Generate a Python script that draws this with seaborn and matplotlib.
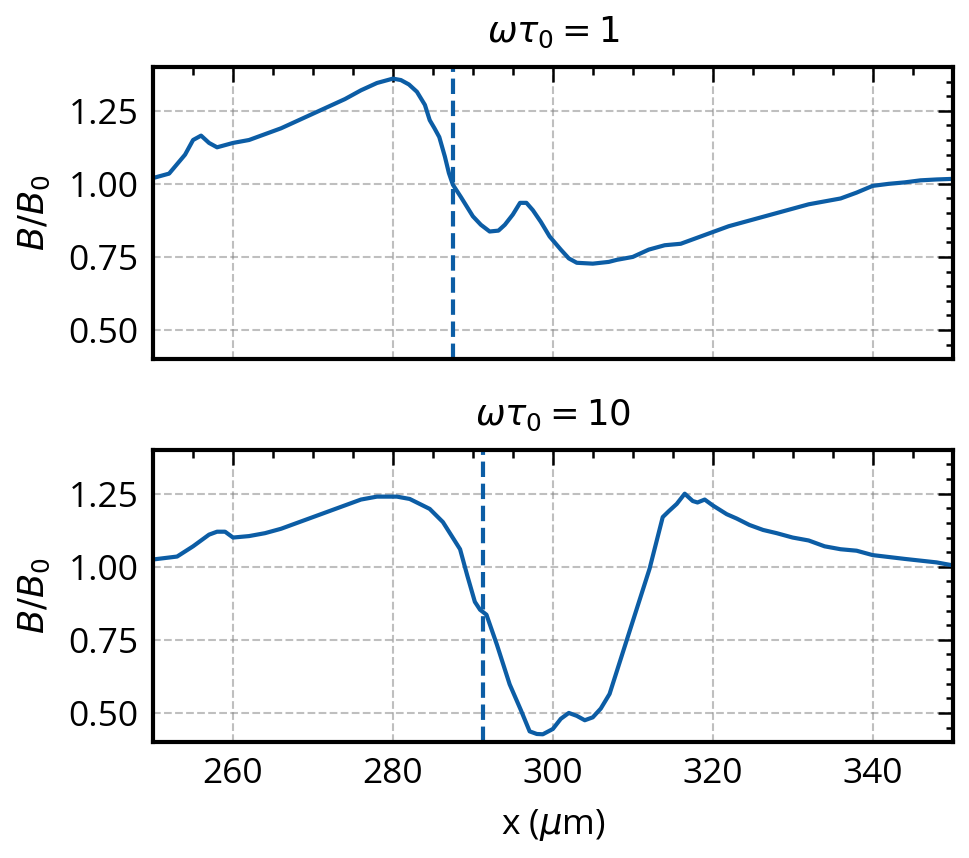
import numpy as np
import pandas as pd
import seaborn as sns
import matplotlib
matplotlib.use("Agg")
import matplotlib.pyplot as plt
from matplotlib.ticker import MultipleLocator

# top panel: omega*tau0 = 1
x_top = [250, 252, 254, 255, 256, 257, 258, 260, 262, 264, 266, 268, 270, 272, 274,
         276, 278, 280, 281, 282, 283, 284, 284.6, 285.2, 285.8, 286.5, 287, 287.5,
         288.5, 290, 291, 292.1, 293.2, 294, 295, 295.9, 296.7, 297.5, 298.5, 299.6,
         301, 302, 303, 305, 307, 308, 310, 312, 314, 316, 318, 320, 322, 324, 326,
         328, 330, 332, 334, 336, 337, 338, 340, 342, 344, 346, 348, 350]
b_top = [1.02, 1.035, 1.10, 1.15, 1.165, 1.14, 1.125, 1.14, 1.15, 1.17, 1.19, 1.215,
         1.24, 1.265, 1.29, 1.32, 1.345, 1.36, 1.355, 1.34, 1.315, 1.27, 1.218, 1.19,
         1.16, 1.093, 1.037, 0.997, 0.955, 0.889, 0.86, 0.837, 0.84, 0.86, 0.895,
         0.935, 0.935, 0.91, 0.87, 0.82, 0.775, 0.745, 0.73, 0.727, 0.733, 0.74, 0.75,
         0.775, 0.79, 0.795, 0.815, 0.835, 0.855, 0.87, 0.885, 0.90, 0.915, 0.93, 0.94,
         0.95, 0.96, 0.97, 0.993, 1.00, 1.005, 1.012, 1.015, 1.017]
vline_top = 287.5

# bottom panel: omega*tau0 = 10
x_bot = [250, 253, 255, 257, 258, 259, 260, 262, 264, 266, 268, 270, 272, 274, 276,
         278, 280.5, 282.1, 284.6, 286.25, 288.4, 289.3, 290.25, 290.9, 291.7, 293,
         294.6, 296, 297.1, 298, 298.75, 300, 301, 302, 303, 304, 305, 306, 307.1,
         309.2, 312.1, 313.75, 314.5, 315.5, 316.5, 317.5, 318.1, 319, 320, 321.75,
         323, 324.6, 326.3, 328, 330, 332, 334, 336, 338, 340, 344, 348, 350]
b_bot = [1.025, 1.035, 1.07, 1.11, 1.12, 1.12, 1.10, 1.105, 1.115, 1.13, 1.15, 1.17,
         1.19, 1.21, 1.23, 1.24, 1.24, 1.232, 1.198, 1.153, 1.06, 0.97, 0.88, 0.853,
         0.836, 0.734, 0.598, 0.51, 0.437, 0.428, 0.427, 0.445, 0.48, 0.50, 0.49,
         0.475, 0.485, 0.515, 0.565, 0.745, 0.993, 1.17, 1.19, 1.215, 1.25, 1.225,
         1.22, 1.23, 1.21, 1.18, 1.165, 1.143, 1.126, 1.115, 1.10, 1.09, 1.07, 1.06,
         1.055, 1.04, 1.027, 1.015, 1.005]
vline_bot = 291.25

titles = [r"$\omega\tau_0 = 1$", r"$\omega\tau_0 = 10$"]

sns.set_style("white")
plt.rcParams["font.family"] = ["Open Sans", "DejaVu Sans"]
plt.rcParams["font.size"] = 8.5
plt.rcParams["mathtext.fontset"] = "dejavusans"
plt.rcParams["text.color"] = "black"
plt.rcParams["axes.labelcolor"] = "black"
plt.rcParams["xtick.color"] = "black"
plt.rcParams["ytick.color"] = "black"

color = "#0C5DA5"

fig, axes = plt.subplots(2, 1, figsize=(3.23, 2.86), dpi=300, sharex=True)
fig.subplots_adjust(left=0.158, right=0.983, top=0.922, bottom=0.135, hspace=0.31)

panels = [(x_top, b_top, vline_top), (x_bot, b_bot, vline_bot)]
for ax, (xs, bs, xv), title in zip(axes, panels, titles):
    df = pd.DataFrame({"x": xs, "B": bs})
    sns.lineplot(data=df, x="x", y="B", ax=ax, color=color, linewidth=1.0)
    ax.axvline(xv, color=color, linestyle="--", linewidth=1.0)
    ax.set_xlim(250, 350)
    ax.set_ylim(0.4, 1.4)
    ax.set_title(title, fontsize=8.5, pad=6, color="black")
    ax.set_ylabel(r"$B/B_0$")
    ax.set_xlabel("")
    ax.xaxis.set_major_locator(MultipleLocator(20))
    ax.xaxis.set_minor_locator(MultipleLocator(5))
    ax.yaxis.set_major_locator(MultipleLocator(0.25))
    ax.yaxis.set_minor_locator(MultipleLocator(0.05))
    ax.tick_params(which="both", direction="in", top=True, right=True, width=0.6)
    ax.tick_params(which="major", length=3.5)
    ax.tick_params(which="minor", length=1.8)
    ax.grid(True, which="major", color="gray", linestyle="--", linewidth=0.5, alpha=0.5)
    for sp in ax.spines.values():
        sp.set_linewidth(1.0)
        sp.set_color("black")

axes[1].set_xlabel(r"x ($\mu$m)")

fig.savefig("out.png", dpi=300)
